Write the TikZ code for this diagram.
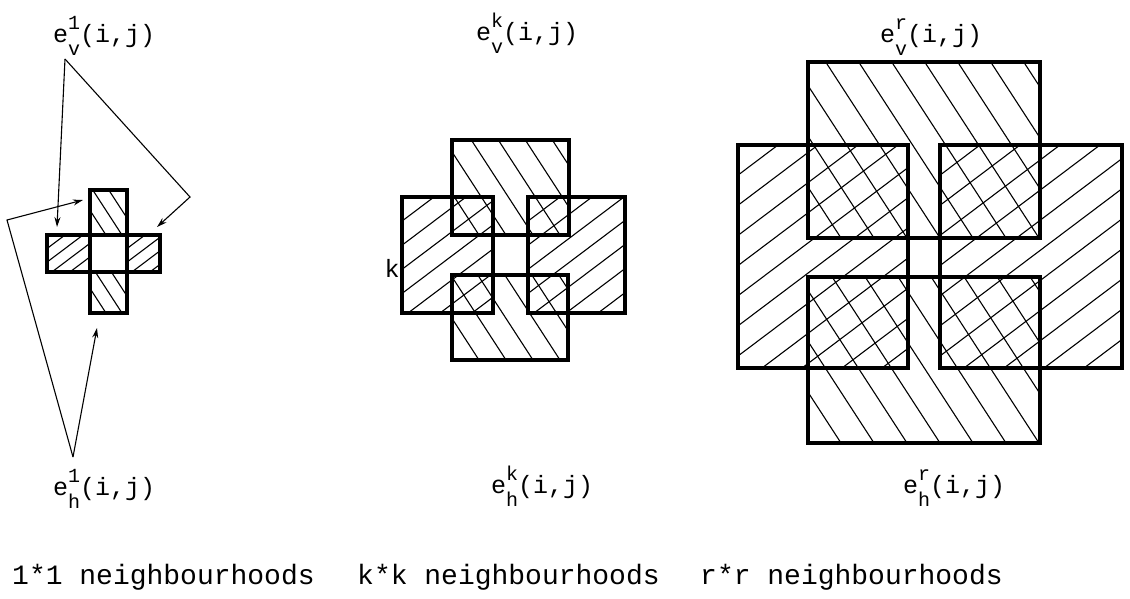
\documentclass[tikz,border=0pt]{standalone}
\usepackage{fontspec}
\newfontfamily\mono{Liberation Mono}
\usetikzlibrary{arrows.meta}

\tikzset{
  frame/.style={line width=3.2pt, line join=miter},
  hatchline/.style={line width=1.1pt},
  lbl/.style={font=\mono\fontsize{25}{28}\selectfont, inner sep=0pt, anchor=base west},
  caption/.style={font=\mono\fontsize{28}{30}\selectfont, inner sep=0pt, anchor=base west},
  pointer/.style={line width=1.1pt, -{Stealth[length=10pt,width=6pt]}},
}

% e with upper and lower index, then (i,j)
\newcommand{\idx}[1]{{\fontsize{20}{22}\selectfont#1}}
\newcommand{\elab}[2]{e\rlap{\raisebox{13pt}{\idx{#1}}}\raisebox{-13pt}{\idx{#2}}(i,j)}

% "/" hatching of a box: x1,y1 (top left), x2,y2 (bottom right), step
\newcommand{\hatchup}[5]{%
  \begin{scope}
    \clip (#1,#2) rectangle (#3,#4);
    \pgfmathsetmacro\hrun{(#4-#2)/tan(37)}
    \pgfmathtruncatemacro\hnum{(#3-#1+\hrun)/#5+1}
    \foreach \i in {0,...,\hnum}
      \draw[hatchline] ({#1-\hrun+\i*#5},#4) -- ++(\hrun,{#2-#4});
  \end{scope}}

% "\" hatching of a box
\newcommand{\hatchdown}[5]{%
  \begin{scope}
    \clip (#1,#2) rectangle (#3,#4);
    \pgfmathsetmacro\hrun{(#4-#2)/tan(57)}
    \pgfmathtruncatemacro\hnum{(#3-#1+\hrun)/#5+1}
    \foreach \i in {0,...,\hnum}
      \draw[hatchline] ({#1-\hrun+\i*#5},#2) -- ++(\hrun,{#4-#2});
  \end{scope}}

\begin{document}
\begin{tikzpicture}[x=1pt, y=-1pt]
    \useasboundingbox (0,0) rectangle (1130,598);

    % 1*1 neighbourhood
    \hatchup{47}{235}{90}{272}{18}
    \hatchup{127}{235}{160}{272}{18}
    \hatchdown{90}{190}{127}{235}{16}
    \hatchdown{90}{272}{127}{313}{16}
    \draw[frame] (90,190) rectangle (127,313);
    \draw[frame] (47,235) rectangle (160,272);

    \node[lbl] (ev1) at (53,42) {\elab{1}{v}};
    \node[lbl] (eh1) at (53,495) {\elab{1}{h}};

    \coordinate (vapex) at (65,59);
    \coordinate (vbend) at (190,197);
    \coordinate (hapex) at (73,457);
    \coordinate (hbend) at (7,220);
    \coordinate (tvl) at (57,227);
    \coordinate (tvr) at (157,227);
    \coordinate (thl) at (83,200);
    \coordinate (thb) at (97,328);
    \draw[pointer] (vapex) -- (tvl);
    \draw[pointer] (vapex) -- (vbend) -- (tvr);
    \draw[pointer] (hapex) -- (hbend) -- (thl);
    \draw[pointer] (hapex) -- (thb);

    % k*k neighbourhood
    \hatchdown{452}{140}{569}{235}{27}
    \hatchdown{452}{275}{568}{360}{27}
    \hatchup{402}{197}{493}{313}{32}
    \hatchup{528}{197}{625}{313}{32}
    \draw[frame] (452,140) rectangle (569,235);
    \draw[frame] (452,275) rectangle (568,360);
    \draw[frame] (402,197) rectangle (493,313);
    \draw[frame] (528,197) rectangle (625,313);

    \node[lbl] (evk) at (476,40) {\elab{k}{v}};
    \node[lbl] (ehk) at (491,493) {\elab{k}{h}};
    \node[font=\mono\fontsize{25}{28}\selectfont, inner sep=0pt] (kside) at (392,268) {k};

    % r*r neighbourhood
    \hatchdown{808}{62}{1040}{238}{33}
    \hatchdown{808}{277}{1040}{443}{33}
    \hatchup{738}{145}{908}{368}{40}
    \hatchup{940}{145}{1122}{368}{40}
    \draw[frame] (808,62) rectangle (1040,238);
    \draw[frame] (808,277) rectangle (1040,443);
    \draw[frame] (738,145) rectangle (908,368);
    \draw[frame] (940,145) rectangle (1122,368);

    \node[lbl] (evr) at (880,42) {\elab{r}{v}};
    \node[lbl] (ehr) at (903,493) {\elab{r}{h}};

    % captions
    \node[caption] (cap1) at (12,584) {1*1 neighbourhoods};
    \node[caption] (capk) at (357,584) {k*k neighbourhoods};
    \node[caption] (capr) at (700,584) {r*r neighbourhoods};
\end{tikzpicture}
\end{document}
